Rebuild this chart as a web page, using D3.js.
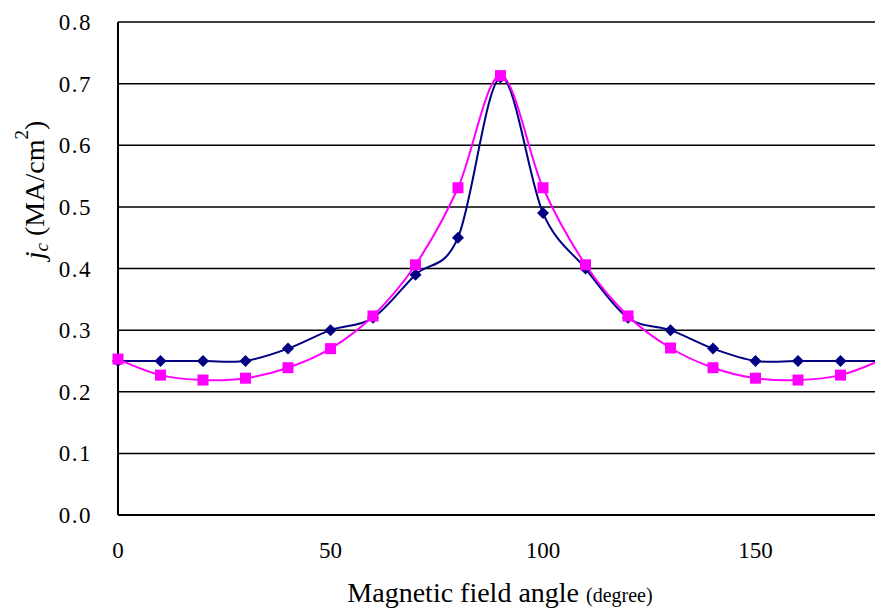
<!DOCTYPE html>
<html>
<head>
<meta charset="utf-8">
<script src="https://cdn.jsdelivr.net/npm/d3@7"></script>
<style>
  body { margin: 0; background: #fff; font-family: 'Liberation Serif'; }
  svg text { font-family: 'Liberation Serif'; }
</style>
</head>
<body>
<script>
// data
var angles = [0, 10, 20, 30, 40, 50, 60, 70, 80, 90, 100, 110, 120, 130, 140, 150, 160, 170, 180];
var jcBlue = [0.25, 0.25, 0.25, 0.25, 0.27, 0.30, 0.32, 0.39, 0.45, 0.71, 0.49, 0.40, 0.32, 0.30, 0.27, 0.25, 0.25, 0.25, 0.25];
var jcPink = [0.253, 0.227, 0.219, 0.222, 0.239, 0.27, 0.323, 0.406, 0.531, 0.713, 0.531, 0.406, 0.323, 0.271, 0.239, 0.222, 0.219, 0.227, 0.253];
var yTicks = [0, 0.1, 0.2, 0.3, 0.4, 0.5, 0.6, 0.7, 0.8];
var xTicks = [0, 50, 100, 150];

var width = 875,
    height = 610;

var svg = d3.select("body").append("svg")
    .attr("width", width)
    .attr("height", height);

var x = d3.scaleLinear().domain([0, 180]).range([118, 883]);
var y = d3.scaleLinear().domain([0, 0.8]).range([515, 22]);

// gridlines
svg.selectAll("grid")
  .data(yTicks.slice(1))
  .enter()
  .append("line")
    .attr("x1", x(0))
    .attr("x2", width)
    .attr("y1", function(d){ return y(d) })
    .attr("y2", function(d){ return y(d) })
    .attr("stroke", "#000")
    .attr("stroke-width", 1.5);

// axes lines
svg.append("line")
    .attr("x1", x(0)).attr("x2", x(0))
    .attr("y1", y(0.8)).attr("y2", y(0))
    .attr("stroke", "#000").attr("stroke-width", 2);
svg.append("line")
    .attr("x1", x(0)).attr("x2", width)
    .attr("y1", y(0)).attr("y2", y(0))
    .attr("stroke", "#000").attr("stroke-width", 2);

// tick labels
svg.selectAll("ylab")
  .data(yTicks)
  .enter()
  .append("text")
    .attr("x", 92)
    .attr("y", function(d){ return y(d) + 8 })
    .attr("text-anchor", "end")
    .style("font-size", "23px")
    .style("letter-spacing", "1.5px")
    .text(function(d){ return d3.format(".1f")(d) });

svg.selectAll("xlab")
  .data(xTicks)
  .enter()
  .append("text")
    .attr("x", function(d){ return x(d) })
    .attr("y", 558)
    .attr("text-anchor", "middle")
    .style("font-size", "23px")
    .text(function(d){ return d });

// axis titles
var xt = svg.append("text")
    .attr("x", 500)
    .attr("y", 602)
    .attr("text-anchor", "middle")
    .style("font-size", "28px");
xt.append("tspan").text("Magnetic field angle ");
xt.append("tspan").style("font-size", "20px").text("(degree)");

var yt = svg.append("text")
    .attr("transform", "translate(44,190) rotate(-90)")
    .attr("text-anchor", "middle")
    .style("font-size", "28px");
yt.append("tspan").style("font-style", "italic").text("j");
yt.append("tspan").style("font-style", "italic").style("font-size", "19px").attr("dy", 4).text("c");
yt.append("tspan").attr("dy", -4).text(" (MA/cm");
yt.append("tspan").style("font-size", "19px").attr("dy", -16).text("2");
yt.append("tspan").attr("dy", 16).text(")");

var line = d3.line()
  .x(function(d){ return x(d[0]) })
  .y(function(d){ return y(d[1]) })
  .curve(d3.curveCatmullRom.alpha(0));

var blue = angles.map(function(a, i){ return [a, jcBlue[i]] });
var pink = angles.map(function(a, i){ return [a, jcPink[i]] });

svg.append("path")
    .attr("d", line(blue))
    .attr("fill", "none")
    .attr("stroke", "#000080")
    .attr("stroke-width", 2);

svg.append("path")
    .attr("d", line(pink))
    .attr("fill", "none")
    .attr("stroke", "#ff00ff")
    .attr("stroke-width", 2);

// diamonds
svg.selectAll("dia")
  .data(blue)
  .enter()
  .append("path")
    .attr("d", "M0,-6L6,0L0,6L-6,0Z")
    .attr("transform", function(d){ return "translate(" + x(d[0]) + "," + y(d[1]) + ")" })
    .attr("fill", "#000080");

// squares
svg.selectAll("sq")
  .data(pink)
  .enter()
  .append("rect")
    .attr("x", function(d){ return x(d[0]) - 5.5 })
    .attr("y", function(d){ return y(d[1]) - 5.5 })
    .attr("width", 11)
    .attr("height", 11)
    .attr("fill", "#ff00ff");
</script>
</body>
</html>
